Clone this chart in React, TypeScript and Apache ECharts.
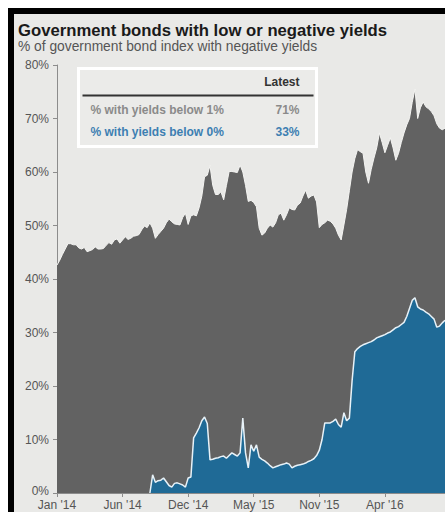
import React, { useEffect, useRef } from "react";
import * as echarts from "echarts";

const titleText = "Government bonds with low or negative yields";
const subtitleText = "% of government bond index with negative yields";
const startDate = "2014-01-03";
const weekCount = 143;

const below1: (number | null)[] = [
  42.6, 43.5, 44.6, 45.6, 46.6, 46.6, 46.4, 46.4, 45.8, 45.6,
  45.9, 45.1, 45.3, 45.5, 46, 45.6, 45.6, 45.7, 46.3, 46.8,
  46.5, 47.3, 47.5, 46.7, 47.3, 47.9, 47.4, 47.6, 48, 48.1,
  48.3, 49.2, 49.9, 49.6, 50.5, 49.5, 47.6, 48.3, 48.9, 49.5,
  50.5, 51.2, 50.7, 50.3, 50.2, 50.1, 51.5, 52.3, 50.2, 51.8,
  52, 51.8, 53.3, 55.5, 59.1, 59.4, 61.2, 57.5, 55.8, 55.8,
  56.3, 54.8, 57.5, 60.1, 60.1, 60, 59.9, 61.3, 60, 57.5,
  54.5, 54.7, 54.3, 53.5, 49.5, 48.2, 48.6, 49.5, 50.1, 49.7,
  50.5, 52, 52.3, 51, 52, 53.3, 53, 52.9, 53.8, 54.2,
  55.5, 56.6, 55.1, 55.5, 55.7, 54.4, 49.6, 50.2, 50.5, 51,
  50.8, 50.3, 49.5, 48.2, 47.3, 50.1, 53, 56.5, 60, 62.5,
  64.2, 63.8, 63.5, 60, 57.9, 60.5, 62.6, 64.5, 67.3, 65.5,
  63.6, 65, 66.4, 64.5, 62.2, 63.5, 65.5, 67.3, 68.8, 70,
  73, 75.5, 70, 72, 73.1, 72.2, 71.8, 71.3, 70.5, 69,
  68.2, 67.9, 68.2,
];

const below0: (number | null)[] = [
  null, null, null, null, null, null, null, null, null, null,
  null, null, null, null, null, null, null, null, null, null,
  null, null, null, null, null, null, null, null, null, null,
  null, null, null, null, 0, 3.4, 2, 2.3, 2.4, 2.8,
  2.1, 1.4, 1.1, 1.8, 1.9, 1.7, 1.5, 1.1, 2.8, 3,
  10.3, 11.2, 12.2, 13.5, 14.2, 13, 6.2, 6.3, 6.5, 6.6,
  6.8, 6.9, 6.5, 7, 7.5, 7.2, 6.9, 7.5, 14, 7.5,
  4.7, 9, 7.8, 9, 6.7, 6.3, 6, 5.6, 5.1, 4.7,
  4.9, 5.1, 5.3, 5.4, 5.6, 5.4, 4.7, 5, 5.2, 5.3,
  5.4, 5.6, 5.9, 6.1, 6.4, 7, 8, 10, 13.1, 13.1,
  13.1, 13.4, 13.8, 12.8, 12.3, 15, 13.5, 14, 21, 26.4,
  27, 27.4, 27.7, 27.9, 28.1, 28.3, 28.6, 29, 29.2, 29.4,
  29.6, 29.9, 30.1, 30.5, 30.9, 31.1, 31.5, 31.9, 33, 34.5,
  36, 36.5, 34.8, 34.4, 34.2, 33.8, 33.5, 33, 32.5, 31,
  31.2, 31.8, 32.3,
];

const legendHeader = "Latest";
const legendLabels = ["% with yields below 1%", "% with yields below 0%"];
const legendValues = ["71%", "33%"];
const legendColors = ["#8a8a8a", "#3d7fb2"];

const monthNames = ["Jan", "Feb", "Mar", "Apr", "May", "Jun", "Jul", "Aug", "Sep", "Oct", "Nov", "Dec"];

function buildWeeks(): string[] {
  const out: string[] = [];
  const base = new Date(startDate + "T00:00:00Z").getTime();
  for (let i = 0; i < weekCount; i++) {
    const d = new Date(base + i * 7 * 86400000);
    out.push(d.toISOString().slice(0, 10));
  }
  return out;
}

function fmtTick(v: string): string {
  const d = new Date(v + "T00:00:00Z");
  return monthNames[d.getUTCMonth()] + " '" + String(d.getUTCFullYear()).slice(2);
}

const FONT = "'Liberation Sans', Arial, sans-serif";

export default function App() {
  const ref = useRef<HTMLDivElement>(null);
  useEffect(() => {
    if (!ref.current) return;
    const chart = echarts.init(ref.current, undefined, { renderer: "svg" });
    const weeks = buildWeeks();
    chart.setOption({
      animation: false,
      backgroundColor: "transparent",
      textStyle: { fontFamily: FONT },
      grid: { left: 43, right: 0, top: 51, bottom: 19 },
      xAxis: {
        type: "category",
        data: weeks,
        boundaryGap: false,
        axisLine: { show: true, lineStyle: { color: "#8c8c8c", width: 1 } },
        axisTick: { show: true, interval: 23, length: 4, lineStyle: { color: "#8c8c8c" } },
        axisLabel: {
          interval: 23,
          margin: 6,
          fontSize: 12,
          color: "#555",
          fontFamily: FONT,
          formatter: (v: string) => fmtTick(v),
        },
        splitLine: { show: false },
      },
      yAxis: {
        type: "value",
        min: 0,
        max: 80,
        interval: 10,
        axisLine: { show: true, lineStyle: { color: "#8c8c8c", width: 1 } },
        axisTick: { show: true, length: 4, lineStyle: { color: "#8c8c8c" } },
        axisLabel: {
          fontSize: 12,
          color: "#555",
          margin: 8,
          fontFamily: FONT,
          formatter: (v: number) => (v === 0 ? "{z|0%}" : v + "%"),
          rich: { z: { fontSize: 12, color: "#555", fontFamily: FONT, padding: [0, 0, 5, 0] } },
        },
        splitLine: { show: false },
      },
      series: [
        {
          type: "line",
          data: below1,
          showSymbol: false,
          symbol: "none",
          lineStyle: { color: "#f4f4f2", width: 1 },
          areaStyle: { color: "#626262", opacity: 1 },
          z: 2,
        },
        {
          type: "line",
          data: below0,
          showSymbol: false,
          symbol: "none",
          connectNulls: false,
          lineStyle: { color: "#e8f2f8", width: 1.5 },
          areaStyle: { color: "#1f6a96", opacity: 1 },
          z: 3,
        },
      ],
      graphic: [
        {
          type: "text",
          left: 4,
          top: 8,
          style: { text: titleText, fontSize: 16.7, fontWeight: "bold", fill: "#1a1a1a", fontFamily: FONT },
        },
        {
          type: "text",
          left: 4,
          top: 25,
          style: { text: subtitleText, fontSize: 13.8, fill: "#555", fontFamily: FONT },
        },
        {
          type: "group",
          left: 63,
          top: 53,
          children: [
            {
              type: "rect",
              shape: { x: 0, y: 0, width: 238, height: 78 },
              style: { fill: "#ebebe9", stroke: "#ffffff", lineWidth: 3 },
            },
            {
              type: "text",
              x: 221,
              y: 13,
              style: { text: legendHeader, fontSize: 12, fontWeight: "bold", fill: "#333", align: "right", verticalAlign: "middle", fontFamily: FONT },
            },
            {
              type: "line",
              shape: { x1: 4, y1: 27, x2: 235, y2: 27 },
              style: { stroke: "#333", lineWidth: 2 },
            },
            {
              type: "text",
              x: 12,
              y: 41,
              style: { text: legendLabels[0], fontSize: 12, fontWeight: "bold", fill: legendColors[0], verticalAlign: "middle", fontFamily: FONT },
            },
            {
              type: "text",
              x: 221,
              y: 41,
              style: { text: legendValues[0], fontSize: 12, fontWeight: "bold", fill: legendColors[0], align: "right", verticalAlign: "middle", fontFamily: FONT },
            },
            {
              type: "text",
              x: 12,
              y: 63,
              style: { text: legendLabels[1], fontSize: 12, fontWeight: "bold", fill: legendColors[1], verticalAlign: "middle", fontFamily: FONT },
            },
            {
              type: "text",
              x: 221,
              y: 63,
              style: { text: legendValues[1], fontSize: 12, fontWeight: "bold", fill: legendColors[1], align: "right", verticalAlign: "middle", fontFamily: FONT },
            },
          ],
        },
      ],
    });
    return () => chart.dispose();
  }, []);

  return (
    <div
      style={{
        position: "fixed",
        left: 8,
        top: 8,
        width: 437,
        height: 504,
        boxSizing: "border-box",
        borderTop: "6px solid #000",
        borderLeft: "6px solid #000",
        background: "#e9e9e7",
        overflow: "hidden",
      }}
    >
      <div ref={ref} style={{ width: 431, height: 498 }} />
    </div>
  );
}
